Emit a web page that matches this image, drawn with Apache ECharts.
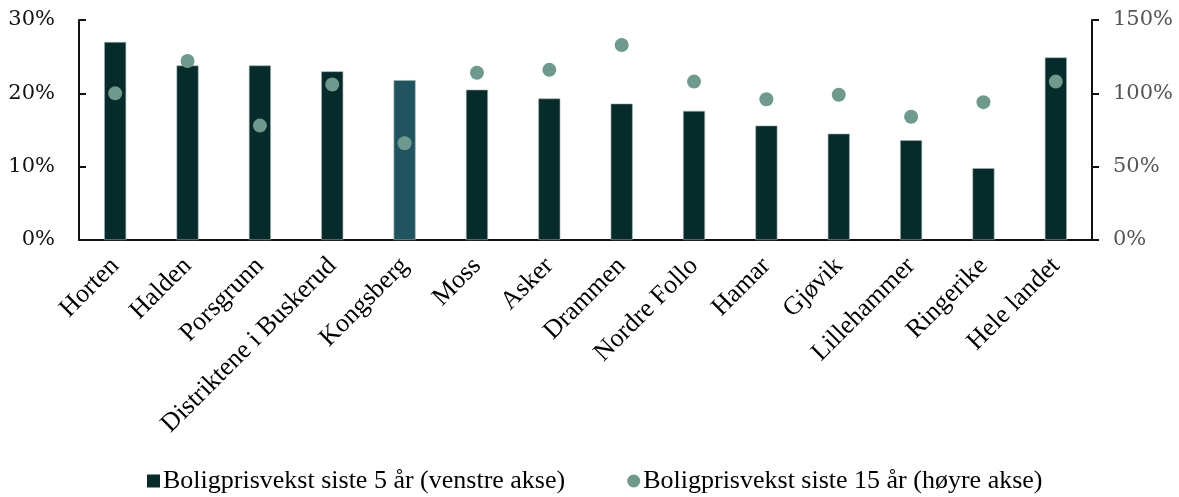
<!DOCTYPE html>
<html>
<head>
<meta charset="utf-8">
<script src="https://cdn.jsdelivr.net/npm/echarts@6/dist/echarts.min.js"></script>
<style>
  html, body { margin: 0; padding: 0; background: #fff; }
  #chart { width: 1179px; height: 497px; }
</style>
</head>
<body>
<div id="chart"></div>
<script>
// Kommuner / regioner
const categories = ['Horten', 'Halden', 'Porsgrunn', 'Distriktene i Buskerud', 'Kongsberg', 'Moss', 'Asker',
  'Drammen', 'Nordre Follo', 'Hamar', 'Gjøvik', 'Lillehammer', 'Ringerike', 'Hele landet'];
// Boligprisvekst siste 5 år, prosent (venstre akse)
const growth5y = [27.0, 23.8, 23.8, 23.0, 21.8, 20.5, 19.3, 18.6, 17.6, 15.6, 14.5, 13.6, 9.8, 24.9];
// Boligprisvekst siste 15 år, prosent (høyre akse)
const growth15y = [100, 122, 78, 106, 66, 114, 116, 133, 108, 96, 99, 84, 94, 108];
const highlighted = 'Kongsberg';

const name5 = 'Boligprisvekst siste 5 år (venstre akse)';
const name15 = 'Boligprisvekst siste 15 år (høyre akse)';

const serifNum = 'Georgia, "DejaVu Serif", serif';
const serifText = '"Liberation Serif", "Times New Roman", serif';

const chart = echarts.init(document.getElementById('chart'), null, { renderer: 'canvas' });
chart.setOption({
  animation: false,
  grid: { left: 79, right: 87, top: 20, bottom: 257 },
  legend: {
    bottom: -2,
    left: 142,
    itemGap: 62,
    itemWidth: 13,
    itemHeight: 13,
    textStyle: { fontFamily: serifText, fontSize: 26, color: '#000', padding: [0, 0, 0, -2] },
    data: [
      { name: name5, icon: 'rect', itemStyle: { color: '#072a2a', borderWidth: 0 } },
      { name: name15, icon: 'circle', itemStyle: { color: '#6f998d', borderWidth: 0, opacity: 1 } }
    ]
  },
  xAxis: {
    type: 'category',
    data: categories,
    axisLine: { lineStyle: { color: '#111', width: 2 } },
    axisTick: { show: false },
    axisLabel: {
      rotate: 45,
      interval: 0,
      margin: 22,
      fontFamily: serifText,
      fontSize: 26,
      color: '#000'
    }
  },
  yAxis: [
    {
      type: 'value',
      min: 0, max: 30, interval: 10,
      splitLine: { show: false },
      axisLine: { show: true, lineStyle: { color: '#111', width: 2 } },
      axisTick: { show: true, inside: true, length: 7, lineStyle: { color: '#111', width: 2 } },
      axisLabel: { formatter: '{value}%', margin: 24, fontFamily: serifNum, fontSize: 21, color: '#111' }
    },
    {
      type: 'value',
      min: 0, max: 150, interval: 50,
      splitLine: { show: false },
      axisLine: { show: true, lineStyle: { color: '#111', width: 2 } },
      axisTick: { show: true, inside: false, length: 7, lineStyle: { color: '#111', width: 2 } },
      axisLabel: { formatter: '{value}%', margin: 21, fontFamily: serifNum, fontSize: 21, color: '#555' }
    }
  ],
  series: [
    {
      name: name5,
      type: 'bar',
      yAxisIndex: 0,
      barWidth: 22,
      data: growth5y.map((v, i) => ({
        value: v,
        itemStyle: { color: categories[i] === highlighted ? '#215461' : '#072a2a' }
      })),
      itemStyle: { borderColor: '#9fb5b1', borderWidth: 0.6 }
    },
    {
      name: name15,
      type: 'scatter',
      yAxisIndex: 1,
      symbol: 'circle',
      symbolSize: 14,
      itemStyle: { color: '#6f998d', opacity: 1 },
      z: 5,
      data: growth15y
    }
  ]
});
</script>
</body>
</html>
